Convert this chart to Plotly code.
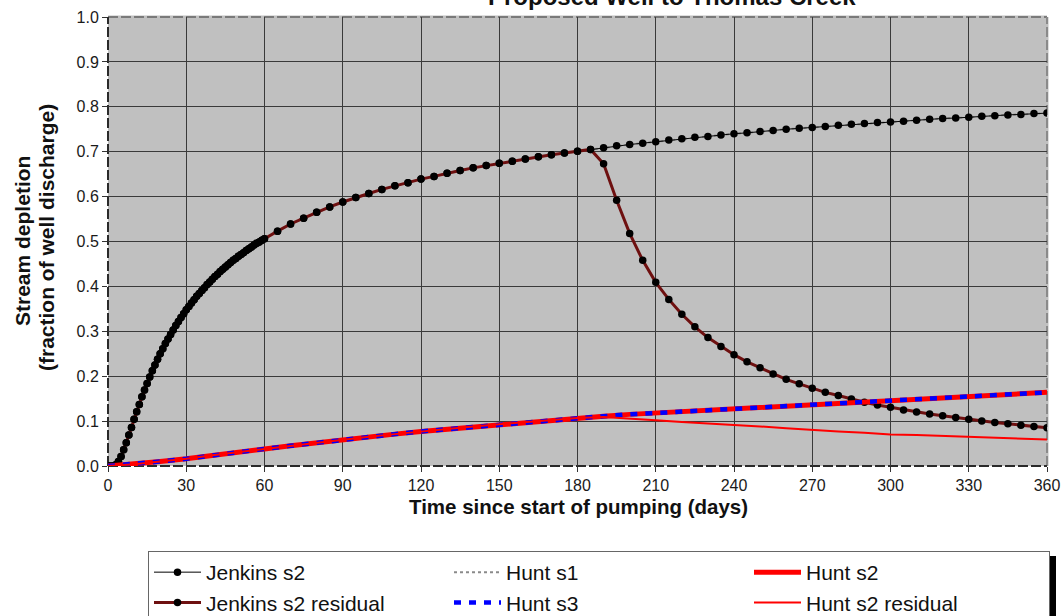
import plotly.graph_objects as go

# ---------------- data ----------------
days_daily = list(range(0, 61))            # daily points, days 0-60
days_5 = list(range(65, 361, 5))           # 5-day points, days 65-360

jenkins_daily = [0.000, 0.000, 0.000, 0.003, 0.010, 0.021, 0.036, 0.052, 0.069, 0.086,
                 0.104, 0.121, 0.137, 0.154, 0.169, 0.184, 0.198, 0.212, 0.225, 0.238,
                 0.250, 0.261, 0.273, 0.283, 0.293, 0.303, 0.313, 0.322, 0.331, 0.339,
                 0.348, 0.355, 0.363, 0.370, 0.378, 0.384, 0.391, 0.397, 0.404, 0.410,
                 0.416, 0.422, 0.427, 0.433, 0.438, 0.443, 0.448, 0.453, 0.458, 0.462,
                 0.467, 0.471, 0.475, 0.480, 0.484, 0.488, 0.492, 0.496, 0.499, 0.503,
                 0.506]
jenkins_5 = [0.523, 0.539, 0.552, 0.565, 0.577, 0.588, 0.598, 0.607, 0.616, 0.624,
             0.631, 0.639, 0.645, 0.652, 0.658, 0.664, 0.669, 0.674, 0.679, 0.684,
             0.689, 0.693, 0.697, 0.701, 0.705, 0.709, 0.713, 0.716, 0.719, 0.722,
             0.726, 0.729, 0.732, 0.734, 0.737, 0.740, 0.742, 0.745, 0.747, 0.750,
             0.752, 0.754, 0.756, 0.759, 0.761, 0.763, 0.765, 0.766, 0.768, 0.770,
             0.772, 0.774, 0.775, 0.777, 0.779, 0.780, 0.782, 0.783, 0.785, 0.786]

resid_days_tail = list(range(190, 361, 5))
jenkins_resid_tail = [0.673, 0.592, 0.518, 0.458, 0.409, 0.371, 0.338, 0.310, 0.286, 0.266,
                      0.248, 0.232, 0.219, 0.205, 0.193, 0.183, 0.173, 0.164, 0.157, 0.149,
                      0.142, 0.136, 0.131, 0.125, 0.120, 0.116, 0.112, 0.108, 0.104, 0.100,
                      0.097, 0.094, 0.091, 0.088, 0.085]

hunt_days = list(range(0, 361, 10))
hunt_s1 = jenkins_daily + jenkins_5          # Hunt s1 lies under the Jenkins s2 curve
hunt_s2 = [0.000, 0.004, 0.010, 0.016, 0.024, 0.031, 0.038, 0.045, 0.052, 0.059,
           0.065, 0.071, 0.077, 0.082, 0.088, 0.093, 0.098, 0.103, 0.107, 0.111,
           0.115, 0.118, 0.121, 0.125, 0.128, 0.131, 0.134, 0.137, 0.140, 0.144,
           0.147, 0.150, 0.153, 0.156, 0.159, 0.161, 0.164]
hunt_s3 = [0.000, 0.004, 0.010, 0.016, 0.024, 0.031, 0.038, 0.045, 0.052, 0.059,
           0.065, 0.071, 0.077, 0.082, 0.088, 0.093, 0.098, 0.103, 0.107, 0.111,
           0.115, 0.118, 0.121, 0.125, 0.128, 0.131, 0.134, 0.137, 0.140, 0.144,
           0.147, 0.150, 0.153, 0.156, 0.159, 0.161, 0.164]
hunt_resid_days_tail = list(range(190, 361, 10))
hunt_resid_tail = [0.109, 0.106, 0.102, 0.098, 0.095, 0.091, 0.088, 0.084, 0.080, 0.077,
                   0.074, 0.070, 0.069, 0.067, 0.064, 0.062, 0.061, 0.059]

x_ticks = [0, 30, 60, 90, 120, 150, 180, 210, 240, 270, 300, 330, 360]
y_ticks = [0.0, 0.1, 0.2, 0.3, 0.4, 0.5, 0.6, 0.7, 0.8, 0.9, 1.0]

title_text = "Proposed Well to Thomas Creek"
x_title = "Time since start of pumping (days)"
y_title_1 = "Stream depletion"
y_title_2 = "(fraction of well discharge)"

# ---------------- derived series ----------------
jenkins_days = days_daily + days_5
jenkins_s2 = jenkins_daily + jenkins_5
n_before_stop = len([d for d in days_5 if d <= 185])
jres_days = days_daily + days_5[:n_before_stop] + resid_days_tail
jres_vals = jenkins_daily + jenkins_5[:n_before_stop] + jenkins_resid_tail
n_h = len([d for d in hunt_days if d <= 180])
hres_days = hunt_days[:n_h] + hunt_resid_days_tail
hres_vals = hunt_s2[:n_h] + hunt_resid_tail

FONT = "Liberation Sans, Arial, Helvetica, sans-serif"
fig = go.Figure()

fig.add_trace(go.Scatter(x=jenkins_days, y=hunt_s1, name="Hunt s1", mode="lines",
                         line=dict(color="#8a8a8a", width=2, dash="dot"), legendrank=2))
fig.add_trace(go.Scatter(x=jenkins_days, y=jenkins_s2, name="Jenkins s2", mode="lines+markers",
                         line=dict(color="#000000", width=1),
                         marker=dict(color="#000000", size=7.5), legendrank=1))
fig.add_trace(go.Scatter(x=jres_days, y=jres_vals, name="Jenkins s2 residual", mode="lines+markers",
                         line=dict(color="#6e1010", width=3),
                         marker=dict(color="#000000", size=7.5), legendrank=4))
fig.add_trace(go.Scatter(x=hunt_days, y=hunt_s2, name="Hunt s2", mode="lines",
                         line=dict(color="#ff0000", width=5), legendrank=3))
fig.add_trace(go.Scatter(x=hunt_days, y=hunt_s3, name="Hunt s3", mode="lines",
                         line=dict(color="#0000ff", width=4.5, dash="7px,8px"), legendrank=5))
fig.add_trace(go.Scatter(x=hres_days, y=hres_vals, name="Hunt s2 residual", mode="lines",
                         line=dict(color="#ff0000", width=2), legendrank=6))

L, R, T, B = 108, 16, 17, 150
W, H = 1063, 616
pw, ph = W - L - R, H - T - B


def px_x(p):
    return (p - L) / pw


def px_y(p):
    return (H - B - p) / ph


axis_common = dict(showgrid=True, gridcolor="#3a3a3a", gridwidth=1, zeroline=False,
                   ticks="outside", ticklen=5, tickwidth=1, tickcolor="#333333",
                   tickfont=dict(family=FONT, size=16, color="#1a1a1a"),
                   showline=False, fixedrange=True)

fig.update_layout(
    width=W, height=H,
    margin=dict(l=L, r=R, t=T, b=B, autoexpand=False),
    paper_bgcolor="white", plot_bgcolor="#c0c0c0",
    font=dict(family=FONT, color="#111111"),
    xaxis=dict(range=[0, 360], tickvals=x_ticks, **axis_common),
    yaxis=dict(range=[0, 1], tickvals=y_ticks, tickformat=".1f", **axis_common),
    showlegend=True,
    legend=dict(orientation="h", x=px_x(148), xanchor="left", y=px_y(551), yanchor="top",
                entrywidth=238, entrywidthmode="pixels", itemwidth=47,
                font=dict(family=FONT, size=21, color="#111111"),
                bgcolor="white", bordercolor="#666666", borderwidth=1,
                traceorder="normal", itemclick=False, itemdoubleclick=False),
)

# plot-area border (dashed) and dashed axis lines
fig.add_shape(type="line", xref="paper", yref="paper", x0=0, x1=1, y0=1, y1=1,
              line=dict(color="#c0c0c0", width=3), layer="between")
fig.add_shape(type="line", xref="paper", yref="paper", x0=1, x1=1, y0=0, y1=1,
              line=dict(color="#c0c0c0", width=3), layer="between")
fig.add_shape(type="line", xref="paper", yref="paper", x0=0, x1=1, y0=1, y1=1,
              line=dict(color="#7a7a7a", width=2, dash="10px,3px"), layer="between")
fig.add_shape(type="line", xref="paper", yref="paper", x0=1, x1=1, y0=0, y1=1,
              line=dict(color="#8a8a8a", width=2, dash="10px,3px"), layer="between")
fig.add_shape(type="line", xref="paper", yref="paper", x0=0, x1=0, y0=0, y1=1,
              line=dict(color="#2a2a2a", width=2, dash="10px,3px"), layer="between")
fig.add_shape(type="line", xref="paper", yref="paper", x0=0, x1=1, y0=0, y1=0,
              line=dict(color="#2a2a2a", width=2, dash="10px,3px"), layer="between")

# legend drop shadow
fig.add_shape(type="rect", xref="paper", yref="paper",
              x0=px_x(154), x1=px_x(1056), y0=px_y(556), y1=px_y(640),
              line=dict(width=0), fillcolor="#000000", layer="above")

fig.add_annotation(text="<b>" + title_text + "</b>", xref="paper", yref="paper",
                   x=px_x(672), y=px_y(-3), xanchor="center", yanchor="middle",
                   showarrow=False, font=dict(family=FONT, size=24, color="#111111"))
fig.add_annotation(text="<b>" + x_title + "</b>", xref="paper", yref="paper",
                   x=px_x(578), y=px_y(506), xanchor="center", yanchor="middle",
                   showarrow=False, font=dict(family=FONT, size=20.5, color="#111111"))
fig.add_annotation(text="<b>" + y_title_1 + "</b>", xref="paper", yref="paper",
                   x=px_x(22), y=px_y(241), xanchor="center", yanchor="middle", textangle=-90,
                   showarrow=False, font=dict(family=FONT, size=21, color="#111111"))
fig.add_annotation(text="<b>" + y_title_2 + "</b>", xref="paper", yref="paper",
                   x=px_x(46), y=px_y(238), xanchor="center", yanchor="middle", textangle=-90,
                   showarrow=False, font=dict(family=FONT, size=21, color="#111111"))

fig.write_html("out.html", config={"displayModeBar": False},
               post_script="document.body.style.margin='0';document.body.style.overflow='hidden';")
